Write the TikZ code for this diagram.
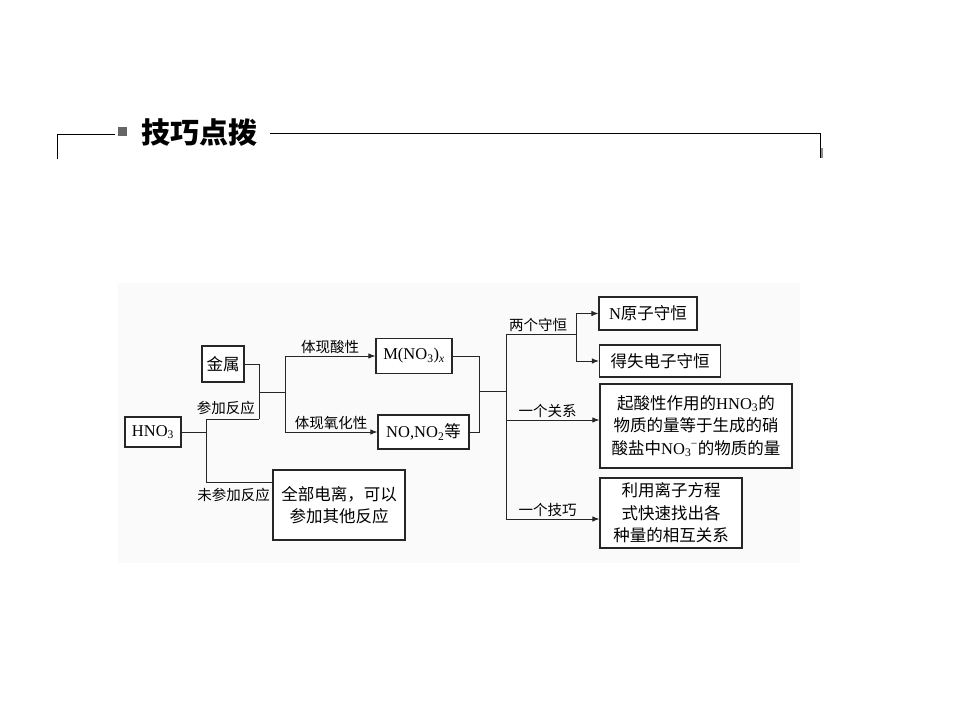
\documentclass[tikz,border=0pt]{standalone}
\usepackage{fontspec}
\setmainfont{Noto Sans CJK SC}
\newfontfamily\lat{Liberation Serif}
\usetikzlibrary{arrows.meta}
\begin{document}
\begin{tikzpicture}[x=1pt,y=-1pt,
  box/.style={draw=black!85,line width=1.2pt,inner sep=0pt,font=\fontsize{16.5}{22.5}\selectfont,align=center,fill=white},
  lab/.style={font=\fontsize{14.5}{17}\selectfont,inner sep=1pt},
  conn/.style={draw=black!85,line width=0.9pt},
  arr/.style={conn,-{Latex[length=7pt,width=5.5pt]}}]
\useasboundingbox (0,0) rectangle (960,720);
\fill[white] (0,0) rectangle (960,720);
% header
\coordinate (hl1) at (57,159);
\coordinate (hl2) at (57,134);
\coordinate (hl3) at (115,134);
\draw[line width=1pt] (hl1) -- (hl2) -- (hl3);
\fill[black!60] (118,127) rectangle (127,136);
\node[font=\bfseries\fontsize{29}{30}\selectfont,anchor=west,inner sep=0pt] (title) at (141,133) {技巧点拨};
\coordinate (hr1) at (270,133);
\coordinate (hr2) at (820,133);
\coordinate (hr3) at (820,158);
\draw[line width=1pt] (hr1) -- (hr2) -- (hr3);
\fill[black!45] (821,148) rectangle (823,158);
% background
\fill[black!2] (118,283) rectangle (800,563);
% boxes
\node[box,minimum width=56pt,minimum height=30pt] (hno) at (153,432) {\lat HNO\textsubscript{3}};
\node[box,minimum width=42pt,minimum height=36pt] (jin) at (223,364) {金属};
\node[box,minimum width=132pt,minimum height=70pt] (quan) at (339,505) {全部电离，可以\\参加其他反应};
\node[box,minimum width=76pt,minimum height=35pt] (mno) at (414,356) {\lat M(NO\textsubscript{3})\textsubscript{\itshape x}};
\node[box,minimum width=91pt,minimum height=34pt] (nono) at (423.5,432) {{\lat NO,NO\textsubscript{2}}等};
\node[box,minimum width=98pt,minimum height=33pt] (nyuan) at (648,313.5) {{\lat N}原子守恒};
\node[box,minimum width=121pt,minimum height=32pt] (deshi) at (660,361) {得失电子守恒};
\node[box,minimum width=192pt,minimum height=84pt] (qisuan) at (696,426) {起酸性作用的{\lat HNO\textsubscript{3}}的\\物质的量等于生成的硝\\酸盐中{\lat NO\textsubscript{3}\kern-0.5pt\textsuperscript{−}}的物质的量};
\node[box,minimum width=142pt,minimum height=70pt] (liyong) at (671,513) {利用离子方程\\式快速找出各\\种量的相互关系};
% left connectors
\coordinate (a) at (206,419);
\coordinate (b) at (206,482);
\coordinate (c) at (259,419);
\coordinate (d) at (259,392);
\coordinate (e) at (285,392);
\draw[conn] (hno.east) -- (hno.east -| a);
\draw[conn] (c) -- (a) -- (b) -- (b -| quan.west);
\draw[conn] (jin.east) -| (c);
\draw[conn] (d) -- (e);
\draw[conn] (e |- mno.west) -- (e |- nono.west);
\draw[arr] (e |- mno.west) -- node[lab,above=1pt] {体现酸性} (mno.west);
\draw[arr] (e |- nono.west) -- node[lab,above=1pt] {体现氧化性} (nono.west);
\node[lab,anchor=east] (l1) at (256,408) {参加反应};
\node[lab,anchor=east] (l2) at (271,495) {未参加反应};
% right connectors
\coordinate (h) at (479,391);
\coordinate (m) at (506,391);
\coordinate (mt) at (506,334);
\coordinate (mb) at (506,519);
\coordinate (r1) at (506,420);
\coordinate (s) at (576,334);
\draw[conn] (mno.east) -| (h);
\draw[conn] (nono.east) -| (h);
\draw[conn] (h) -- (m);
\draw[conn] (mt) -- (mb);
\draw[conn] (mt) -- node[lab,above=1pt,xshift=-3pt] {两个守恒} (s);
\draw[conn] (s |- nyuan.west) -- (s |- deshi.west);
\draw[arr] (s |- nyuan.west) -- (nyuan.west);
\draw[arr] (s |- deshi.west) -- (deshi.west);
\draw[arr] (r1) -- node[lab,above=1pt,xshift=-5pt] {一个关系} (r1 -| qisuan.west);
\draw[arr] (mb) -- node[lab,above=1pt,xshift=-5pt] {一个技巧} (mb -| liyong.west);
\end{tikzpicture}
\end{document}
